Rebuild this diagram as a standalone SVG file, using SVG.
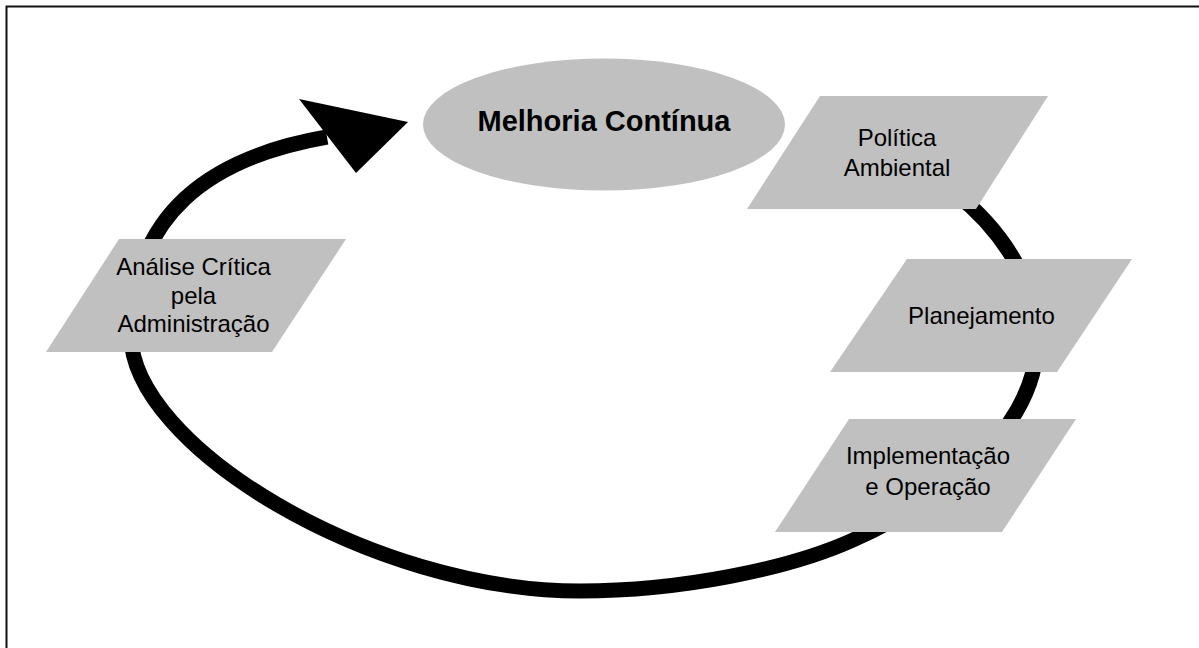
<svg xmlns="http://www.w3.org/2000/svg" width="1199" height="648" viewBox="0 0 1199 648">
  <style>
    .shape { fill: #c0c0c0; stroke: none; }
    .label { font-family: "Liberation Sans", Arial, sans-serif; font-size: 24px; fill: #000; text-anchor: middle; }
    .title { font-family: "Liberation Sans", Arial, sans-serif; font-size: 29px; font-weight: bold; fill: #000; text-anchor: middle; }
    .loop { fill: none; stroke: #000; stroke-width: 15; }
  </style>

  <rect width="1199" height="648" fill="#fff"/>
  <!-- frame: only top and left edges fall inside the canvas -->
  <path d="M6.5 648 V6.5 H1199" fill="none" stroke="#111" stroke-width="2"/>

  <!-- cycle loop with arrowhead pointing at the improvement ellipse -->
  <g id="connectors">
    <path class="loop" d="M955 193 C1005 232 1040 290 1037 345 C1034 415 971 487 853 540 C789 569 680 591 580 591 C370 591 131 445 131 335 C131 215 209 157.5 327 137"/>
    <polygon points="408,122 299,99 356,173" fill="#000"/>
  </g>

  <g id="melhoria">
    <ellipse class="shape" cx="604" cy="124.5" rx="181" ry="66"/>
    <text class="title" x="604" y="131">Melhoria Contínua</text>
  </g>

  <g id="politica">
    <polygon class="shape" points="820,96 1048,96 976,209 747,209"/>
    <text class="label" x="897" y="145.5">Política</text>
    <text class="label" x="897" y="175.5">Ambiental</text>
  </g>

  <g id="planejamento">
    <polygon class="shape" points="907,259 1132,259 1057,372 830,372"/>
    <text class="label" x="981.5" y="323.5">Planejamento</text>
  </g>

  <g id="implementacao">
    <polygon class="shape" points="849,419 1076,419 1002,532 775,532"/>
    <text class="label" x="928" y="464">Implementação</text>
    <text class="label" x="928" y="494.5">e Operação</text>
  </g>

  <g id="analise">
    <polygon class="shape" points="119,239 346,239 272,352 46,352"/>
    <text class="label" x="193.5" y="275">Análise Crítica</text>
    <text class="label" x="193.5" y="303.5">pela</text>
    <text class="label" x="193.5" y="331.5">Administração</text>
  </g>
</svg>
